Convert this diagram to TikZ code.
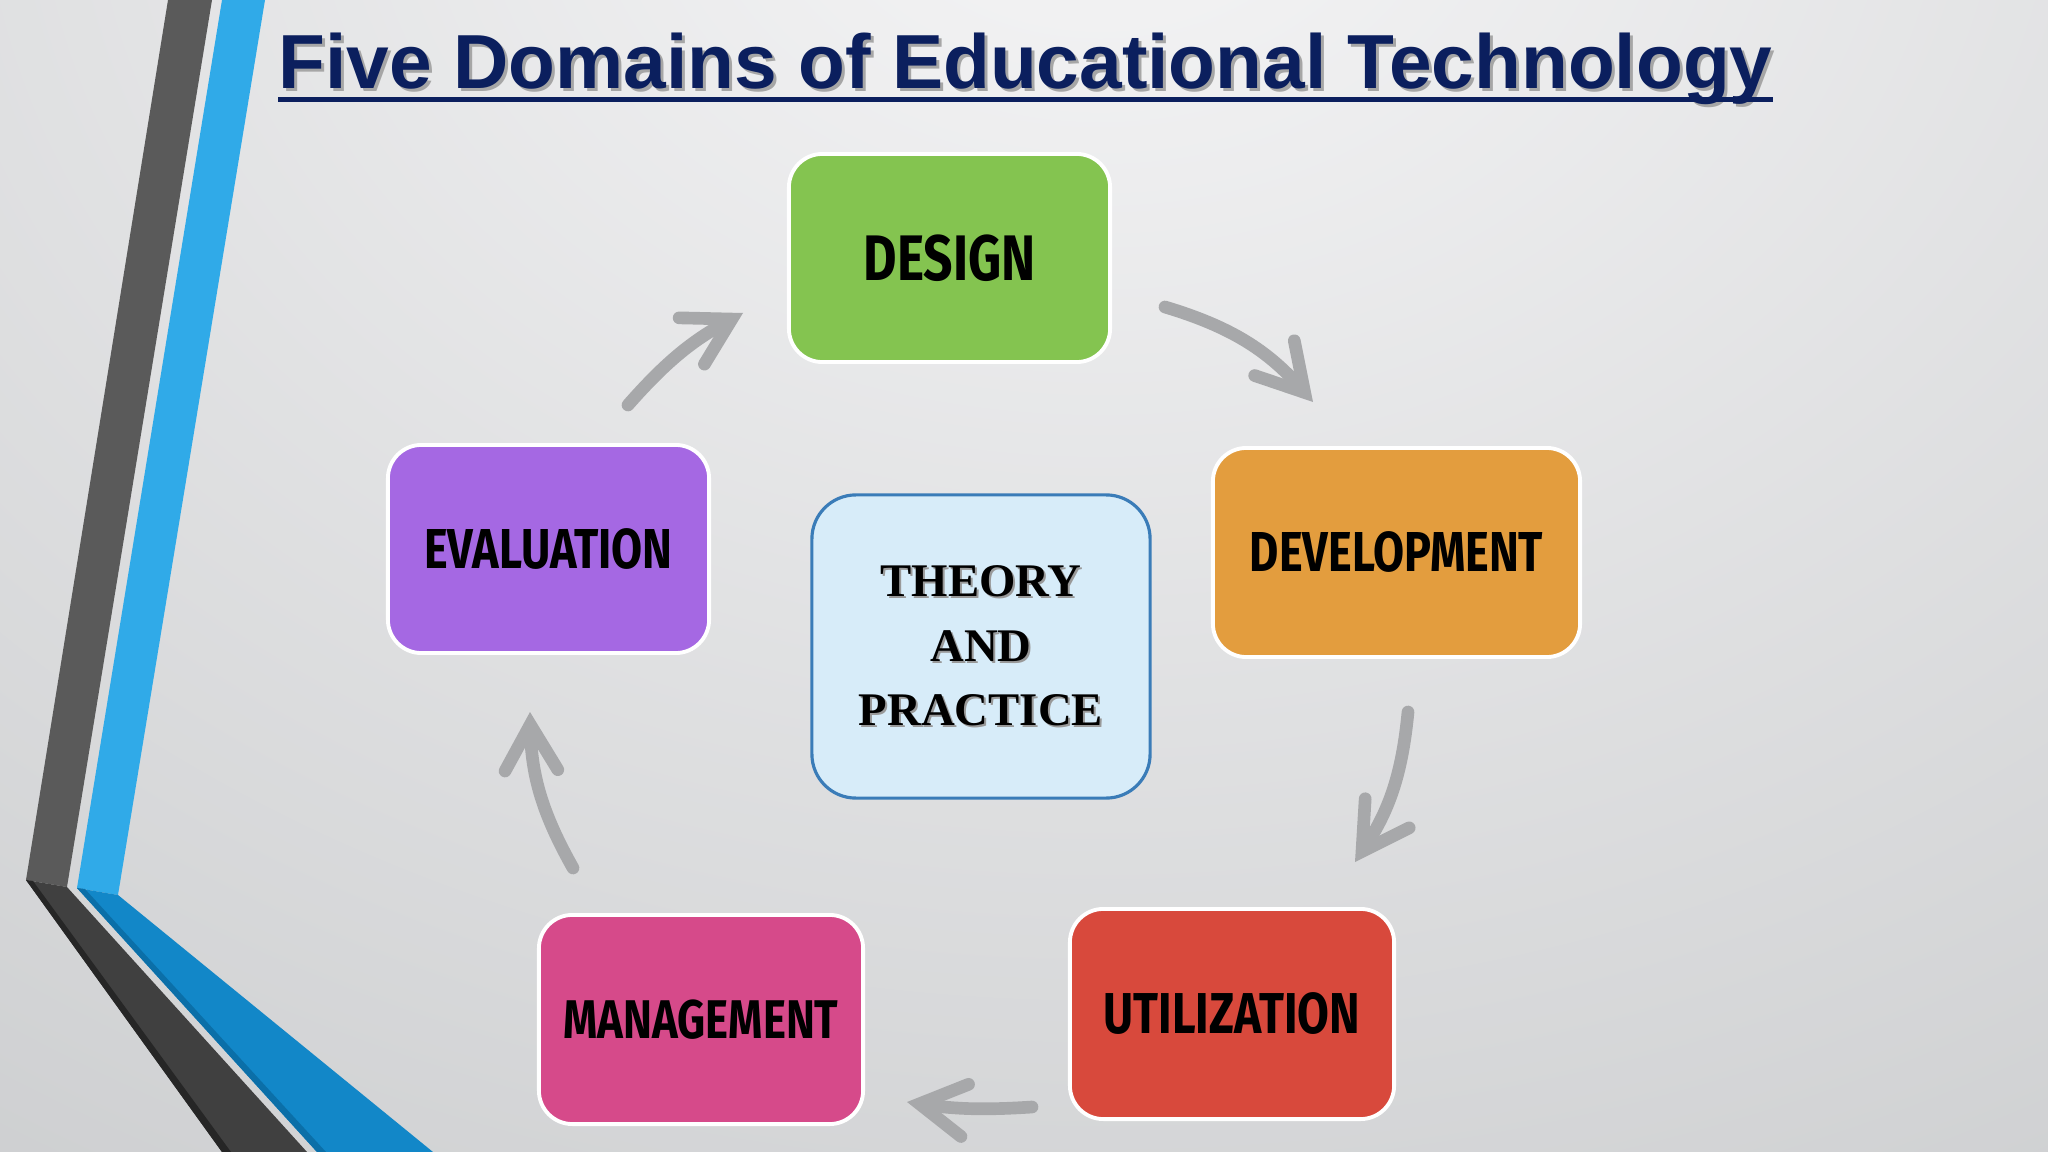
\documentclass[tikz,border=0pt]{standalone}
\usepackage{fontspec}
\setmainfont{Liberation Sans}
\newfontfamily\titlefont{Liberation Sans}
\newfontfamily\seriffont{Liberation Serif}
\newfontfamily\condfont[FakeStretch=0.8]{Fira Sans}
\usetikzlibrary{arrows.meta}
\definecolor{bgin}{HTML}{F5F5F6}
\definecolor{bgout}{HTML}{BCBEC0}
\definecolor{dkup}{HTML}{5A5A5A}
\definecolor{dklow}{HTML}{404040}
\definecolor{dkedge}{HTML}{262626}
\definecolor{lblue}{HTML}{30AAE8}
\definecolor{dblue}{HTML}{1287C8}
\definecolor{dbedge}{HTML}{0B6FA8}
\definecolor{navy}{HTML}{0B1F5E}
\definecolor{cgreen}{HTML}{84C450}
\definecolor{corange}{HTML}{E39D3E}
\definecolor{cred}{HTML}{D8493C}
\definecolor{cpink}{HTML}{D64A8A}
\definecolor{cpurple}{HTML}{A568E3}
\definecolor{thfill}{HTML}{D7ECF9}
\definecolor{thdraw}{HTML}{3A7CB8}
\definecolor{arrowgray}{HTML}{A7A8AA}
\tikzset{
  dom/.style={rounded corners=9.5pt, draw=white, line width=1.1pt, text=black,
    inner sep=0pt, minimum width=3.21cm, minimum height=2.08cm,
    font=\condfont\bfseries\fontsize{16}{16}\selectfont},
  flow/.style={draw=arrowgray, line width=3.6pt, line cap=round,
    -{Straight Barb[length=13pt, width=15pt, line cap=round, line join=miter]}},
  ttext/.style={align=center, inner sep=0pt,
    font=\seriffont\bfseries\fontsize{13.3}{18.4}\selectfont}
}
\begin{document}
\begin{tikzpicture}[x=0.01cm,y=-0.01cm]
\useasboundingbox (0,0) rectangle (2048,1152);
% background
\begin{scope}
  \clip (0,0) rectangle (2048,1152);
  \shade[inner color=bgin, outer color=bgout] (1100,-150) ellipse (3000 and 2300);
\end{scope}
% left decoration
\fill[dkup] (168,0) -- (212,0) -- (67,887) -- (26,880) -- cycle;
\fill[dklow] (26,880) -- (67,887) -- (307,1152) -- (222,1152) -- cycle;
\fill[dkedge] (26,880) -- (33,881) -- (231,1152) -- (222,1152) -- cycle;
\fill[lblue] (222,0) -- (265,0) -- (118,895) -- (77,888) -- cycle;
\fill[dblue] (77,888) -- (118,895) -- (433,1152) -- (317,1152) -- cycle;
\fill[dbedge] (77,888) -- (85,889) -- (326,1152) -- (317,1152) -- cycle;
% title
\node[anchor=base west, inner sep=0pt, text=black!35, font=\titlefont\bfseries\fontsize{21.8}{26}\selectfont] (titleshadow) at (281,92) {Five Domains of Educational Technology};
\node[anchor=base west, inner sep=0pt, text=navy, font=\titlefont\bfseries\fontsize{21.8}{26}\selectfont] (title) at (278,89) {Five Domains of Educational Technology};
\draw[navy, line width=1.2pt] ([yshift=-3pt]title.base west) -- ([yshift=-3pt]title.base east);
% domain boxes
\node[dom, fill=cgreen, font=\condfont\bfseries\fontsize{18.3}{18.3}\selectfont] (design) at (949.5,258) {DESIGN};
\node[dom, fill=corange, minimum width=3.67cm, minimum height=2.09cm] (devel) at (1396.5,552.5) {DEVELOPMENT};
\node[dom, fill=cred, minimum width=3.24cm, minimum height=2.10cm, font=\condfont\bfseries\fontsize{16.4}{16.4}\selectfont] (util) at (1232,1014) {UTILIZATION};
\node[dom, fill=cpink, minimum width=3.24cm, minimum height=2.09cm, font=\condfont\bfseries\fontsize{15.5}{15.5}\selectfont] (manage) at (701,1019.5) {MANAGEMENT};
\node[dom, fill=cpurple] (eval) at (548.5,549) {EVALUATION};
% centre
\node[rounded corners=12.5pt, draw=thdraw, line width=0.9pt, fill=thfill, minimum width=3.38cm, minimum height=3.03cm] (theory) at (981,646.5) {};
\node[ttext, text=black!40] (theoryshadow) at (983,648) {THEORY\\AND\\PRACTICE};
\node[ttext] (theorytext) at (981,646) {THEORY\\AND\\PRACTICE};
% arrows
\coordinate (a1s) at (628,405); \coordinate (a1e) at (743,313);
\coordinate (a2s) at (1165,307); \coordinate (a2e) at (1313,402);
\coordinate (a3s) at (1408,712); \coordinate (a3e) at (1355,862);
\coordinate (a4s) at (1032,1107); \coordinate (a4e) at (907,1102);
\coordinate (a5s) at (573,868); \coordinate (a5e) at (530,712);
\draw[flow] (a1s) to[bend left=10] (a1e);
\draw[flow] (a2s) to[bend left=16] (a2e);
\draw[flow] (a3s) to[bend left=14] (a3e);
\draw[flow] (a4s) to[bend left=6] (a4e);
\draw[flow] (a5s) to[bend left=14] (a5e);
\end{tikzpicture}
\end{document}
